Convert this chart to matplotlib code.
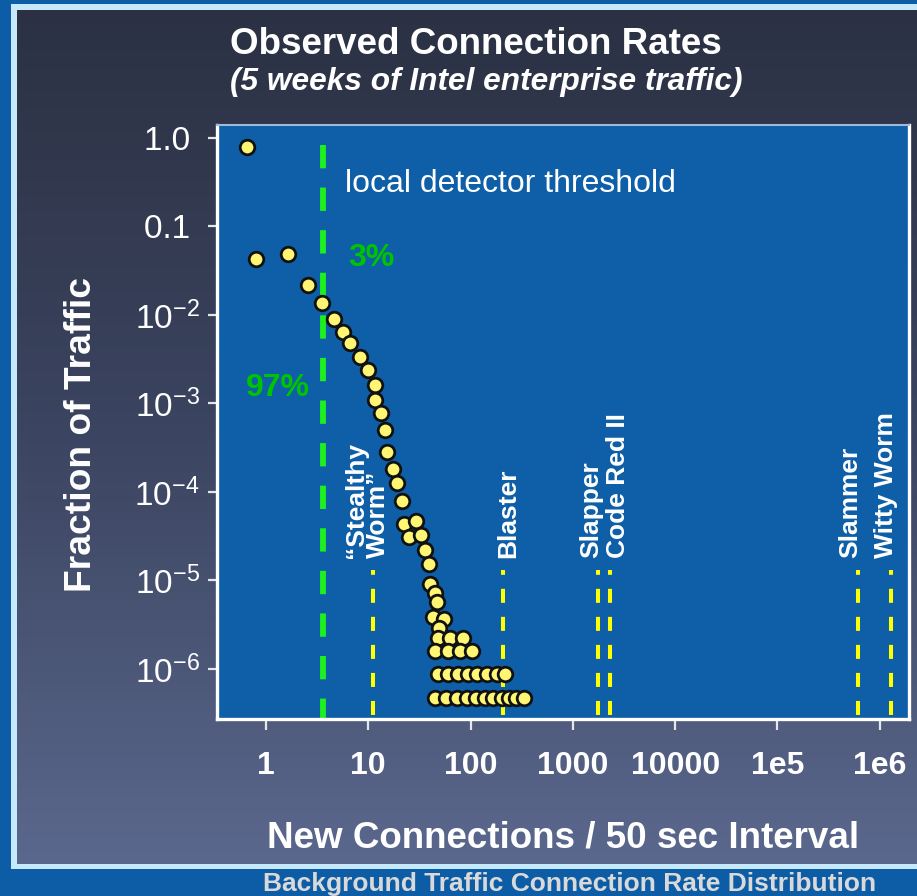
import numpy as np
import matplotlib
matplotlib.use("Agg")
import matplotlib.pyplot as plt
from matplotlib.patches import Rectangle
from matplotlib.colors import LinearSegmentedColormap
from matplotlib.transforms import offset_copy

plt.rcParams['font.family'] = ['Liberation Sans', 'DejaVu Sans']
plt.rcParams['mathtext.default'] = 'regular'

# ---- observed distribution: new connections per 50 s vs. fraction of traffic ----
rate = [0.647, 0.80, 1.65, 2.59, 3.5, 4.62, 5.6, 6.62, 8.3, 9.86, 11.6, 11.6, 13.3,
        14.6, 15.3, 17.3, 18.9, 21.2, 22.3, 29.0, 25.0, 32.5, 35.8, 39.5, 40.1, 44.9,
        47.4, 42.6, 55.0, 49.5,
        48.3, 62.9, 84.9,
        44.9, 60.5, 78.7, 102.5,
        48.3, 60.5, 76.0, 95.1, 116.6, 143.8, 179.6, 216.0,
        44.9, 57.5, 73.3, 91.5, 112.7, 138.6, 166.8, 201.0, 239.0, 281.0, 333.0]
fraction = [0.785, 0.0426, 0.0485, 0.0217, 0.0135, 0.0090, 0.00643, 0.00478, 0.00333,
            0.00239, 0.00161, 0.0011, 0.000775, 0.000501, 0.000281, 0.00018, 0.000125,
            7.9e-5, 4.3e-5, 4.7e-5, 3.08e-5, 3.23e-5, 2.21e-5, 1.52e-5, 9.1e-6, 7.2e-6,
            5.67e-6, 3.9e-6, 3.67e-6, 2.88e-6,
            2.22e-6, 2.22e-6, 2.22e-6,
            1.61e-6, 1.61e-6, 1.61e-6, 1.61e-6,
            8.8e-7, 8.8e-7, 8.8e-7, 8.8e-7, 8.8e-7, 8.8e-7, 8.8e-7, 8.8e-7,
            4.67e-7, 4.67e-7, 4.67e-7, 4.67e-7, 4.67e-7, 4.67e-7, 4.67e-7, 4.67e-7,
            4.67e-7, 4.67e-7, 4.67e-7]

x_ticks = [1, 10, 100, 1000, 10000, 1e5, 1e6]
x_tick_labels = ['1', '10', '100', '1000', '10000', '1e5', '1e6']
y_ticks = [1.0, 0.1, 1e-2, 1e-3, 1e-4, 1e-5, 1e-6]
y_tick_labels = ['1.0 ', '0.1 ', '10$^{-2}$', '10$^{-3}$', '10$^{-4}$',
                 '10$^{-5}$', '10$^{-6}$']

threshold_rate = 3.6
threshold_top = 0.83

worm_rates = [11.2, 208, 1750, 2310, 6.08e5, 1.29e6]
worm_labels = [['“Stealthy', 'Worm”'], ['Blaster'], ['Slapper'], ['Code Red II'],
               ['Slammer'], ['Witty Worm']]
worm_line_top = 1.3e-5
worm_label_y = 1.8e-5
# horizontal placement (pixels) of each label line relative to its marker line
worm_label_dx = [[-10, 12], [12], [0], [15], [0], [2]]

BLUE = '#0c5da5'
PLOT_BG = '#0e5fa8'
GREEN_LINE = '#1ef01e'
GREEN_TXT = '#00c400'
YELLOW = '#ffff00'
DOT = '#fff674'

W, H = 917, 896
fig = plt.figure(figsize=(W / 100, H / 100), dpi=100)
fig.patch.set_facecolor(BLUE)

# slide panel: light border on left/top/bottom, vertical gradient inside
bg = fig.add_axes([0, 0, 1, 1], zorder=-5)
bg.axis('off')
bg.set_xlim(0, W)
bg.set_ylim(H, 0)
bg.add_patch(Rectangle((11, 4), 1000, 865, facecolor='#c6e9fc', edgecolor='none',
                       zorder=0))
grad = LinearSegmentedColormap.from_list('panel', ['#2b3143', '#3b4460', '#5a678c'])
top, bottom, nbands = 10, 863, 170
edges = np.linspace(top, bottom, nbands + 1)
for i in range(nbands):
    bg.add_patch(Rectangle((17, edges[i]), 1000, edges[i + 1] - edges[i] + 0.6,
                           facecolor=grad(i / (nbands - 1)), edgecolor='none',
                           zorder=1))

bg.text(230, 54, 'Observed Connection Rates', color='white', fontsize=26.5,
        fontweight='bold', ha='left', va='baseline')
bg.text(230, 90, '(5 weeks of Intel enterprise traffic)', color='white', fontsize=22.8,
        fontweight='bold', fontstyle='italic', ha='left', va='baseline')
bg.text(563, 847, 'New Connections / 50 sec Interval', color='white', fontsize=26.5,
        fontweight='bold', ha='center', va='baseline')
bg.text(91, 435, 'Fraction of Traffic', color='white', fontsize=26.8, fontweight='bold',
        rotation=90, rotation_mode='anchor', ha='center', va='baseline')
bg.text(570, 891, 'Background Traffic Connection Rate Distribution', color='#d9d9d9',
        fontsize=19, fontweight='bold', ha='center', va='baseline')

# main chart
ax = fig.add_axes([217 / W, (H - 719) / H, (909 - 217) / W, (719 - 125) / H])
ax.set_facecolor(PLOT_BG)
ax.set_xscale('log')
ax.set_yscale('log')
ax.set_xlim(0.332, 1.93e6)
ax.set_ylim(2.72e-7, 1.40)

ax.set_xticks(x_ticks)
ax.set_xticklabels(x_tick_labels)
ax.set_yticks(y_ticks)
ax.set_yticklabels(y_tick_labels)
ax.minorticks_off()
ax.tick_params(axis='x', colors='#e6e6e6', length=8, width=1.6, pad=15,
               labelsize=23, labelcolor='white')
ax.tick_params(axis='y', colors='#e6e6e6', length=6.5, width=1.6, pad=6,
               labelsize=24, labelcolor='white')
for lab in ax.get_xticklabels():
    lab.set_fontweight('bold')

for side in ('left', 'bottom', 'right'):
    ax.spines[side].set_color('white')
    ax.spines[side].set_linewidth(2.4)
ax.spines['top'].set_color('#9fb9d9')
ax.spines['top'].set_linewidth(1.5)

ymin = ax.get_ylim()[0]

# local detector threshold
ax.plot([threshold_rate, threshold_rate], [threshold_top, ymin], color=GREEN_LINE,
        lw=4.2, ls=(0, (4.0, 3.3)), dash_capstyle='butt', zorder=2)

# known worm scan rates
for xr in worm_rates:
    ax.plot([xr, xr], [ymin, worm_line_top], color=YELLOW, lw=2.9,
            ls=(5.96, (3.48, 3.48)), dash_capstyle='butt', zorder=2)

for xr, lines, dxs in zip(worm_rates, worm_labels, worm_label_dx):
    for line, dx in zip(lines, dxs):
        tr = offset_copy(ax.transData, fig=fig, x=dx * 0.72, y=0, units='points')
        ax.text(xr, worm_label_y, line, transform=tr, color='white', fontsize=19,
                fontweight='bold', rotation=90, rotation_mode='anchor',
                ha='left', va='baseline', zorder=3)

ax.scatter(rate, fraction, s=10.5 ** 2, c=DOT, edgecolors='#111111', linewidths=2.0,
           zorder=4, clip_on=False)

# in-plot annotations, positioned in slide pixel space
ax.text(345, 192, 'local detector threshold', transform=bg.transData, color='white',
        fontsize=23, ha='left', va='baseline', zorder=10)
ax.text(348, 266, '3%', transform=bg.transData, color=GREEN_TXT, fontsize=23,
        fontweight='bold', ha='left', va='baseline', zorder=10)
ax.text(246, 396, '97%', transform=bg.transData, color=GREEN_TXT, fontsize=23,
        fontweight='bold', ha='left', va='baseline', zorder=10)

fig.savefig('out.png', dpi=100, facecolor=fig.get_facecolor())
